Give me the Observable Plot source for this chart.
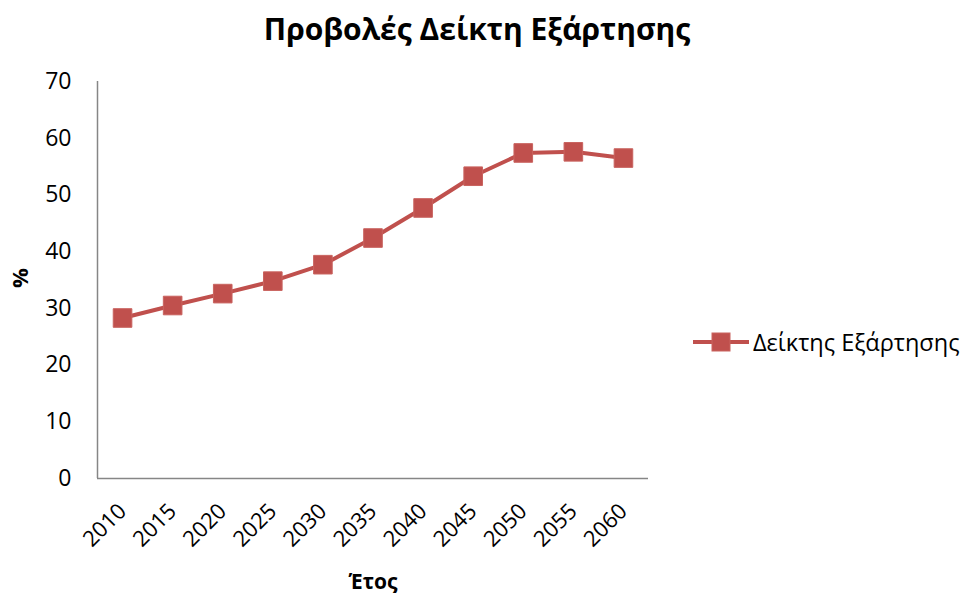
<!DOCTYPE html>
<html><head><meta charset="utf-8">
<script src="https://cdn.jsdelivr.net/npm/d3@7"></script>
<script src="https://cdn.jsdelivr.net/npm/@observablehq/plot@0.6"></script>
<style>
body{margin:0;background:#fff;font-family:"Open Sans",sans-serif;}
#wrap{position:relative;width:960px;height:596px;overflow:hidden;}
#title{height:58px;line-height:58px;text-align:center;font-weight:bold;font-size:30px;color:#000;padding-right:6px;}
#legend{position:absolute;left:692px;top:326px;display:flex;align-items:center;font-size:23.5px;color:#000;}
#legend svg{margin-right:3px;}
</style></head><body>
<div id="wrap">
<div id="title"></div>
<div id="chart"></div>
<div id="legend"></div>
</div>
<script>
const titleText = "Προβολές Δείκτη Εξάρτησης";
const seriesName = "Δείκτης Εξάρτησης";
const xTitle = "Έτος";
const yTitle = "%";
const years = [2010, 2015, 2020, 2025, 2030, 2035, 2040, 2045, 2050, 2055, 2060];
const values = [28.3, 30.5, 32.6, 34.8, 37.7, 42.4, 47.7, 53.3, 57.4, 57.6, 56.5];
const yTicks = [0, 10, 20, 30, 40, 50, 60, 70];
const color = "#C0504D";

const data = years.map((y, i) => ({year: y, value: values[i]}));

document.getElementById("title").textContent = titleText;

const chart = Plot.plot({
  width: 960,
  height: 538,
  marginLeft: 97,
  marginRight: 312,
  marginTop: 23,
  marginBottom: 118,
  style: {fontFamily: "Open Sans", fontSize: "23px", color: "#000", background: "#fff"},
  x: {type: "linear", domain: [2007.5, 2062.5], label: null},
  y: {domain: [0, 70], label: null},
  marks: [
    Plot.axisY({ticks: yTicks, tickSize: 0, tickPadding: 26, label: null, fontSize: 23}),
    Plot.axisX({ticks: years, tickSize: 0, tickPadding: 29, tickRotate: -45, tickFormat: d => String(d), label: null, fontSize: 22}),
    Plot.ruleY([0], {stroke: "#868686", strokeWidth: 1.5}),
    Plot.ruleX([2007.5], {stroke: "#868686", strokeWidth: 1.5}),
    Plot.line(data, {x: "year", y: "value", stroke: color, strokeWidth: 4}),
    Plot.dot(data, {x: "year", y: "value", symbol: "square", r: 10.5, fill: color, stroke: "#c9635f", strokeWidth: 1}),
    Plot.text([yTitle], {frameAnchor: "left", dx: -77, dy: 8, rotate: -90, fontWeight: "bold", fontSize: 22}),
    Plot.text([xTitle], {frameAnchor: "bottom", dy: 110, fontWeight: "bold", fontSize: 21})
  ]
});
document.getElementById("chart").appendChild(chart);

const legend = document.getElementById("legend");
legend.innerHTML = `<svg width="58" height="24"><line x1="1" x2="57" y1="12" y2="12" stroke="${color}" stroke-width="4"/><rect x="20" y="3" width="18" height="18" fill="${color}" stroke="#c9635f"/></svg><span></span>`;
legend.querySelector("span").textContent = seriesName;
</script>
</body></html>
